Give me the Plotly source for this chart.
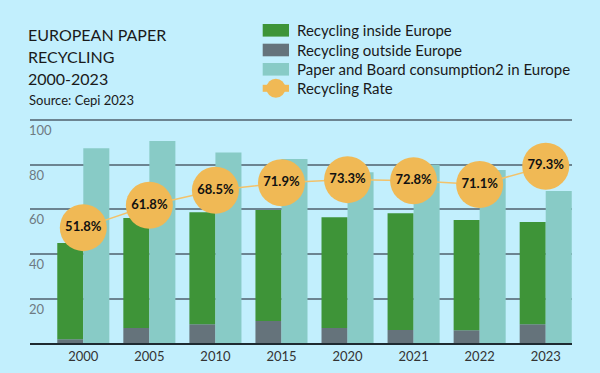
import plotly.graph_objects as go

# ---- data ----
years = ["2000", "2005", "2010", "2015", "2020", "2021", "2022", "2023"]
recycling_outside = [1.8, 6.9, 8.5, 10.0, 6.9, 6.0, 5.8, 8.5]
recycling_inside = [43.1, 49.2, 50.2, 49.7, 49.5, 52.2, 49.4, 45.8]
consumption = [87.3, 90.6, 85.4, 82.5, 76.6, 80.0, 77.6, 68.2]
recycling_rate = [51.8, 61.8, 68.5, 71.9, 73.3, 72.8, 71.1, 79.3]
y_ticks = [20, 40, 60, 80, 100]

title_lines = ["EUROPEAN PAPER", "RECYCLING", "2000-2023"]
source_text = "Source: Cepi 2023"
legend_labels = ["Recycling inside Europe", "Recycling outside Europe",
                 "Paper and Board consumption2 in Europe", "Recycling Rate"]

# ---- style ----
W, H = 600, 373
BG = "#C2EFFD"
GREEN = "#3E9438"
GRAY = "#65737B"
TEAL = "#88CBC6"
ORANGE = "#F0B955"
GRID = "#6C8491"
FONT = "Lato"

bar_w = 0.394

fig = go.Figure()
fig.add_trace(go.Bar(x=years, y=recycling_outside, base=0, width=bar_w, offset=-bar_w,
                     marker=dict(color=GRAY, line=dict(width=0)), name=legend_labels[1],
                     showlegend=False))
fig.add_trace(go.Bar(x=years, y=recycling_inside, base=recycling_outside, width=bar_w,
                     offset=-bar_w, marker=dict(color=GREEN, line=dict(width=0)),
                     name=legend_labels[0], showlegend=False))
fig.add_trace(go.Bar(x=years, y=consumption, base=0, width=bar_w, offset=0,
                     marker=dict(color=TEAL, line=dict(width=0)), name=legend_labels[2],
                     showlegend=False))
fig.add_trace(go.Scatter(x=years, y=recycling_rate, mode="lines+markers+text",
                         text=[f"{v:.1f}%" for v in recycling_rate],
                         textposition="middle center",
                         textfont=dict(family=FONT, size=13, color="#111111", weight="bold"),
                         line=dict(color="#F3C26A", width=1.5),
                         marker=dict(size=47, color=ORANGE, line=dict(width=0)),
                         cliponaxis=False, name=legend_labels[3], showlegend=False))

# plot area geometry (pixels)
x_left, x_right = 30, 572
y0_px, y100_px = 343.3, 120.0
ppu = (y0_px - y100_px) / 100.0
y_top_val = 105
y_top_px = y0_px - y_top_val * ppu

# category range so that bars land in place
cat0_px, cat_step = 83.3, 66.06
xr = [(x_left - cat0_px) / cat_step, (x_right - cat0_px) / cat_step]

fig.update_layout(
    width=W, height=H,
    paper_bgcolor=BG, plot_bgcolor=BG,
    margin=dict(l=0, r=0, t=0, b=0),
    barmode="overlay",
    showlegend=False,
    font=dict(family=FONT, color="#222222"),
    xaxis=dict(domain=[x_left / W, x_right / W], range=xr, type="category",
               showgrid=False, showline=True, linecolor="#1E2A30", linewidth=1.5,
               ticks="", tickfont=dict(family=FONT, size=13, color="#333333"),
               fixedrange=True),
    yaxis=dict(domain=[1 - y0_px / H, 1 - y_top_px / H], range=[0, y_top_val],
               tickvals=y_ticks, showticklabels=False, showgrid=True,
               gridcolor=GRID, gridwidth=2, zeroline=False, showline=False,
               fixedrange=True),
)

annotations = []
# y tick labels (left-aligned, sitting just below each gridline)
for v in y_ticks:
    annotations.append(dict(x=27 / W, xref="paper", y=v, yref="y", yshift=-10,
                            text=str(v), showarrow=False, xanchor="left", yanchor="middle",
                            font=dict(family=FONT, size=13, color="#6E7A82")))

# title block
for txt, yc in zip(title_lines, [34, 56.7, 78.7]):
    annotations.append(dict(x=26 / W, xref="paper", y=1 - yc / H, yref="paper", text=txt,
                            showarrow=False, xanchor="left", yanchor="middle",
                            font=dict(family=FONT, size=16, color="#1A1A1A")))
annotations.append(dict(x=27 / W, xref="paper", y=1 - 100 / H, yref="paper", text=source_text,
                        showarrow=False, xanchor="left", yanchor="middle",
                        font=dict(family=FONT, size=13, color="#1A1A1A")))

# custom legend
row_y = [30.3, 50.0, 69.3, 88.3]
sw_x0, sw_x1 = 262.7, 289.0
shapes = []
for color, yc in zip([GREEN, GRAY, TEAL], row_y[:3]):
    shapes.append(dict(type="rect", xref="paper", yref="paper",
                       x0=sw_x0 / W, x1=sw_x1 / W, y0=1 - (yc + 6.3) / H, y1=1 - (yc - 6.3) / H,
                       fillcolor=color, line=dict(width=0)))
yc = row_y[3]
shapes.append(dict(type="rect", xref="paper", yref="paper",
                   x0=sw_x0 / W, x1=sw_x1 / W, y0=1 - (yc + 3.5) / H, y1=1 - (yc - 3.5) / H,
                   fillcolor=ORANGE, line=dict(width=0)))
cx = (sw_x0 + sw_x1) / 2
shapes.append(dict(type="circle", xref="paper", yref="paper",
                   x0=(cx - 9.5) / W, x1=(cx + 9.5) / W, y0=1 - (yc + 9.5) / H,
                   y1=1 - (yc - 9.5) / H, fillcolor=ORANGE, line=dict(width=0)))
for txt, yc in zip(legend_labels, row_y):
    annotations.append(dict(x=295 / W, xref="paper", y=1 - yc / H, yref="paper", text=txt,
                            showarrow=False, xanchor="left", yanchor="middle",
                            font=dict(family=FONT, size=15, color="#1A1A1A")))

fig.update_layout(annotations=annotations, shapes=shapes)

fig.write_html("out.html", config={"displayModeBar": False},
               post_script="document.body.style.margin='0';document.body.style.padding='0';")
